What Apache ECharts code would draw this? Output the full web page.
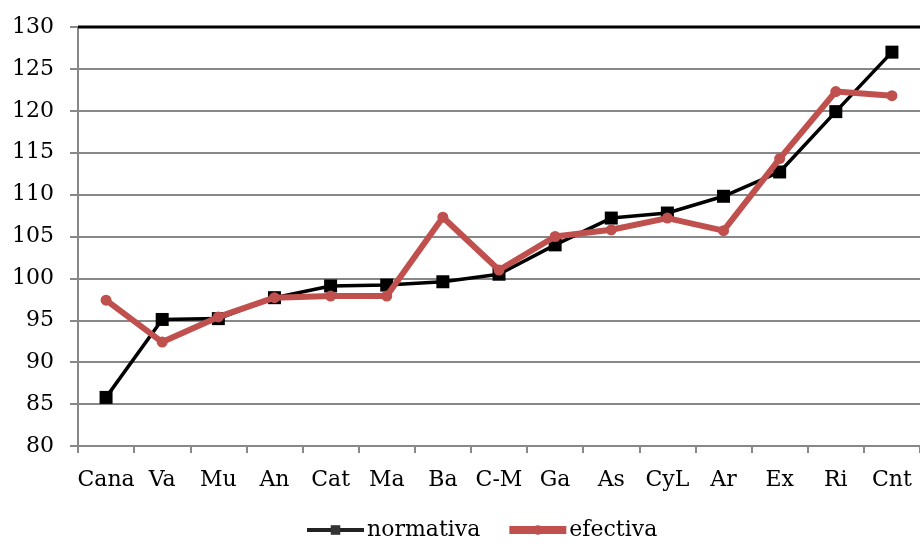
<!DOCTYPE html>
<html><head><meta charset="utf-8">
<script src="https://cdn.jsdelivr.net/npm/echarts@6/dist/echarts.min.js"></script>
<style>html,body{margin:0;padding:0;background:#fff}#c{width:920px;height:546px}</style>
</head><body><div id="c"></div>
<script>
const categories = ["Cana","Va","Mu","An","Cat","Ma","Ba","C-M","Ga","As","CyL","Ar","Ex","Ri","Cnt"];
const normativa = [85.8,95.1,95.2,97.7,99.1,99.2,99.6,100.5,104.0,107.2,107.8,109.8,112.7,119.9,127.0];
const efectiva = [97.4,92.4,95.4,97.7,97.9,97.9,107.3,101.0,105.0,105.8,107.2,105.7,114.3,122.3,121.8];
const yTicks = {min:80,max:130,interval:5};
const font = "'DejaVu Serif', 'Liberation Serif', serif";
const chart = echarts.init(document.getElementById('c'));
chart.setOption({
  animation:false,
  textStyle:{fontFamily:font},
  grid:{left:78,top:27,right:-2,bottom:100},
  legend:{bottom:0,left:300,itemGap:25,itemWidth:57,itemHeight:12,
    textStyle:{fontFamily:font,fontSize:22,color:'#000',padding:[0,0,0,-2]},
    data:[{name:'normativa',lineStyle:{width:4,color:'#222'},itemStyle:{color:'#333'}},
          {name:'efectiva',lineStyle:{width:8,color:'#c0504d'},itemStyle:{color:'#c0504d'}}]},
  xAxis:{type:'category',data:categories,boundaryGap:true,
    axisLine:{lineStyle:{color:'#888',width:2}},
    axisTick:{show:true,length:7,lineStyle:{color:'#888',width:2}},
    axisLabel:{fontFamily:font,fontSize:22,color:'#000',margin:23,interval:0}},
  yAxis:{type:'value',min:yTicks.min,max:yTicks.max,interval:yTicks.interval,
    axisLine:{show:true,lineStyle:{color:'#888',width:2}},
    axisTick:{show:true,length:8,lineStyle:{color:'#888',width:2}},
    splitLine:{lineStyle:{color:'#888',width:2}},
    axisLabel:{fontFamily:font,fontSize:22,color:'#000',margin:24}},
  series:[
    {name:'normativa',type:'line',data:normativa,symbol:'rect',symbolSize:13,
      lineStyle:{color:'#000',width:3.5},itemStyle:{color:'#000'},z:2},
    {name:'efectiva',type:'line',data:efectiva,symbol:'circle',symbolSize:11,
      lineStyle:{color:'#c0504d',width:6},itemStyle:{color:'#c0504d'},z:3}
  ],
  graphic:[{type:'line',shape:{x1:78,y1:27,x2:920,y2:27},style:{stroke:'#000',lineWidth:3},z:10}]
});
</script></body></html>
